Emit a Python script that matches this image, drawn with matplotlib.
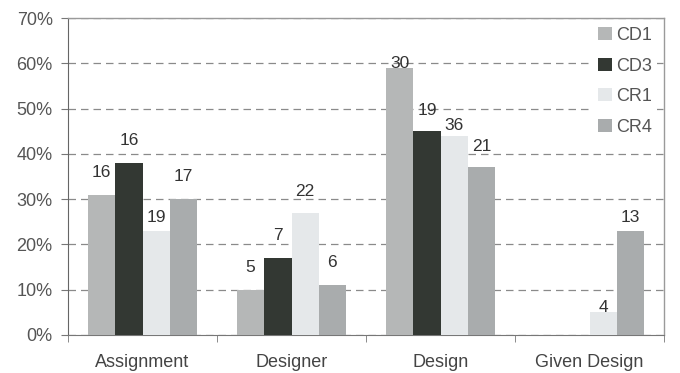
import matplotlib
matplotlib.use("Agg")
import matplotlib.pyplot as plt
import numpy as np
from matplotlib.ticker import FixedLocator, PercentFormatter

categories = ["Assignment", "Designer", "Design", "Given Design"]
series_names = ["CD1", "CD3", "CR1", "CR4"]
# percentage heights of bars
cd1 = [31, 10, 59, 0]
cd3 = [38, 17, 45, 0]
cr1 = [23, 27, 44, 5]
cr4 = [30, 11, 37, 23]
# count labels shown above bars (None = no label)
cd1_counts = [16, 5, 30, None]
cd3_counts = [16, 7, 19, None]
cr1_counts = [19, 22, 36, 4]
cr4_counts = [17, 6, 21, 13]
yticks = [0, 10, 20, 30, 40, 50, 60, 70]

values = [cd1, cd3, cr1, cr4]
counts = [cd1_counts, cd3_counts, cr1_counts, cr4_counts]
colors = ["#b5b7b7", "#333833", "#e5e8ea", "#a9acad"]
# label offset above bar top (in percentage points), style only
label_offsets = [
    [4.9, 4.9, 0.9, 1.0],
    [4.9, 4.9, 4.6, 1.0],
    [2.9, 4.7, 2.2, 1.1],
    [4.9, 4.9, 4.6, 2.9],
]

plt.rcParams["font.family"] = ["Liberation Sans", "DejaVu Sans"]

fig = plt.figure(figsize=(6.8, 3.73), dpi=100)
ax = fig.add_axes([0.1, 0.1019, 0.8765, 0.8498])

x = np.arange(len(categories))
bw = 0.183
for i, (name, vals) in enumerate(zip(series_names, values)):
    pos = x + (i - 1.5) * bw
    ax.bar(pos, vals, width=bw, color=colors[i], label=name, zorder=3)
    for j, (p, v) in enumerate(zip(pos, vals)):
        c = counts[i][j]
        if c is None:
            continue
        ax.text(p, v + label_offsets[i][j], str(c), ha="center", va="center",
                fontsize=12.5, color="#333333", zorder=4)

ax.set_xlim(-0.5, 3.5)
ax.set_ylim(0, 70)
ax.set_yticks(yticks)
ax.yaxis.set_major_formatter(PercentFormatter(decimals=0))
ax.grid(axis="y", linestyle=(0, (6, 4)), color="#8a8a8a", linewidth=0.9, zorder=1)
ax.set_xticks(x)
ax.set_xticklabels(categories, fontsize=13, color="#444444")
ax.xaxis.set_minor_locator(FixedLocator(np.arange(-0.5, 3.6, 1.0)))
ax.tick_params(axis="x", which="major", length=0, pad=14)
ax.tick_params(axis="x", which="minor", length=5, color="#777777", direction="out")
ax.tick_params(axis="y", length=5, color="#777777", labelsize=13, labelcolor="#555555", pad=6)

for s in ["top", "right"]:
    ax.spines[s].set_color("#9a9a9a")
    ax.spines[s].set_linewidth(1.0)
ax.spines["left"].set_color("#666666")
ax.spines["bottom"].set_color("#777777")

leg = ax.legend(loc="upper right", bbox_to_anchor=(0.995, 1.0), frameon=True,
                fontsize=13, labelspacing=0.75, handlelength=0.75, handleheight=0.75,
                handletextpad=0.25, borderpad=0.3, borderaxespad=0.2)
leg.get_frame().set_edgecolor("none")
leg.get_frame().set_facecolor("white")
leg.get_frame().set_alpha(1.0)
for t in leg.get_texts():
    t.set_color("#555555")
leg.set_zorder(5)

fig.savefig("out.png", dpi=100)
